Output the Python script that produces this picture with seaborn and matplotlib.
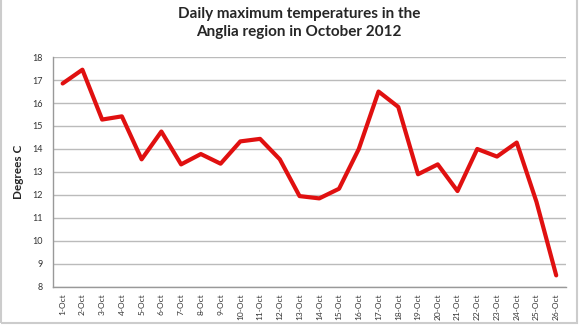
import numpy as np
import pandas as pd
import seaborn as sns
import matplotlib.pyplot as plt
from matplotlib.patches import Rectangle

# Données
days = [f"{i}-Oct" for i in range(1, 27)]
temps = [16.85, 17.45, 15.28, 15.42, 13.55, 14.76, 13.33, 13.78, 13.36, 14.33,
         14.44, 13.55, 11.95, 11.85, 12.27, 14.0, 16.5, 15.83, 12.9, 13.33,
         12.17, 14.0, 13.67, 14.28, 11.7, 8.5]
y_ticks = list(range(8, 19))

df = pd.DataFrame({"day": days, "temp": temps})

sns.set_style("white")
plt.rcParams['font.family'] = ['Lato', 'DejaVu Sans']

fig = plt.figure(figsize=(5.8, 3.26), dpi=100)
ax = fig.add_axes([0.091, 0.12, 0.885, 0.705])

sns.lineplot(data=df, x="day", y="temp", sort=False, color="#e01010",
             linewidth=3, ax=ax)

ax.set_ylim(8, 18)
ax.set_xlim(-0.5, len(days) - 0.5)
ax.set_yticks(y_ticks)
ax.set_yticklabels([str(t) for t in y_ticks], fontsize=6.5, color="#333333")
ax.set_xticks(range(len(days)))
ax.set_xticklabels(days, rotation=90, fontsize=6, color="#333333")
ax.set_xticks(np.arange(-0.5, len(days)), minor=True)
ax.tick_params(axis="x", which="major", length=0, pad=5)
ax.tick_params(axis="x", which="minor", length=3, color="#999999", direction="out")
ax.tick_params(axis="y", length=3, color="#999999", direction="out", pad=4)

ax.grid(axis="y", color="#bbbbbb", linewidth=1)
ax.set_axisbelow(True)
for side in ["top", "right"]:
    ax.spines[side].set_visible(False)
for side in ["left", "bottom"]:
    ax.spines[side].set_color("#999999")
    ax.spines[side].set_linewidth(1)

ax.set_xlabel("")
ax.set_ylabel("Degrees C", fontsize=8.5, fontweight="bold", labelpad=6)
fig.suptitle("Daily maximum temperatures in the\nAnglia region in October 2012",
             fontsize=11, fontweight="bold", y=0.98, x=0.515, linespacing=1.45)

# cadre gris
fig.patches.append(Rectangle((0.002, 0.01), 0.992, 1.2, transform=fig.transFigure,
                             fill=False, edgecolor="#cccccc", linewidth=1.5))

fig.savefig("out.png", dpi=100)
